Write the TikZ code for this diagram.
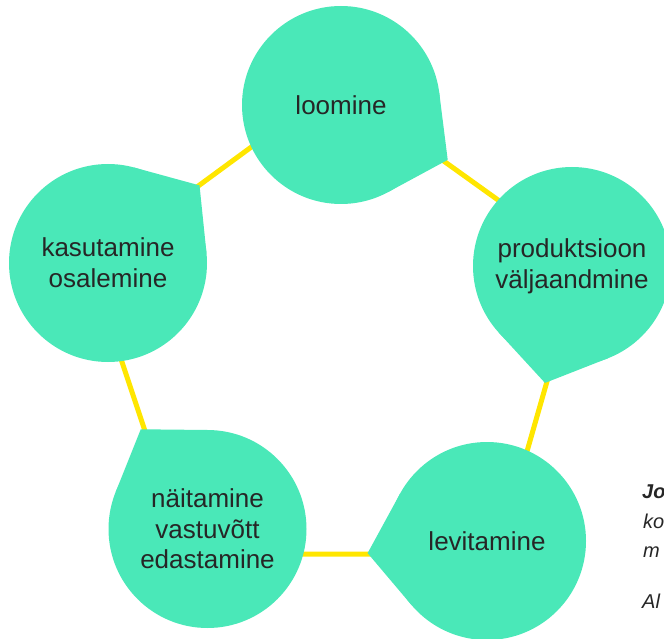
\documentclass[tikz,border=0pt]{standalone}
\usepackage{fontspec}
\setmainfont{Liberation Sans}
\usetikzlibrary{calc}
\definecolor{mint}{HTML}{4AE8B8}
\definecolor{sun}{HTML}{FFE600}
\definecolor{ink}{HTML}{262626}
\newcommand\dropnode[5]{%
  \coordinate (#1c) at (#2,#3);
  \coordinate (#1tip) at ($(#1c)+({#4}:120)$);
  \fill[mint] (#1tip) -- ($(#1c)+({#4+34.4}:99)$) -- (#1c) -- ($(#1c)+({#4-34.4}:99)$) -- cycle;
  \node[bubble] (#1) at (#1c) {#5};
}
\begin{document}
\begin{tikzpicture}[x=1pt,y=-1pt,
  bubble/.style={circle,fill=mint,minimum size=198pt,inner sep=0pt,align=center,text=ink,font=\fontsize{26}{30.7}\selectfont},
  link/.style={draw=sun,line width=5pt},
  side/.style={anchor=base west,text=ink,inner sep=0pt,font=\fontsize{20}{24}\selectfont\itshape}]
\path[use as bounding box] (0,0) rectangle (664,639);
% pentagon of connectors
\coordinate (vA) at (336.7,84.3);
\coordinate (vB) at (581.7,260);
\coordinate (vC) at (497.7,554);
\coordinate (vD) at (186,554);
\coordinate (vE) at (89.9,265.6);
\draw[link] (vA) -- (vB) -- (vC) -- (vD) -- (vE) -- cycle;
% bubbles
\dropnode{loo}{341}{105}{27.2}{loomine}
\dropnode{pro}{572}{266}{103}{produktsioon\\väljaandmine}
\dropnode{lev}{487}{541}{174.2}{levitamine}
\dropnode{nai}{207.5}{529}{236.2}{näitamine\\vastuvõtt\\edastamine}
\dropnode{kas}{108}{263}{319.7}{kasutamine\\osalemine}
% cut-off side text
\node[side,font=\fontsize{20}{24}\selectfont\bfseries\itshape] (jo) at (642,498) {Jo};
\node[side] (ko) at (643,528) {ko};
\node[side] (mm) at (643,557) {m};
\node[side] (al) at (642,608) {Al};
\end{tikzpicture}
\end{document}
